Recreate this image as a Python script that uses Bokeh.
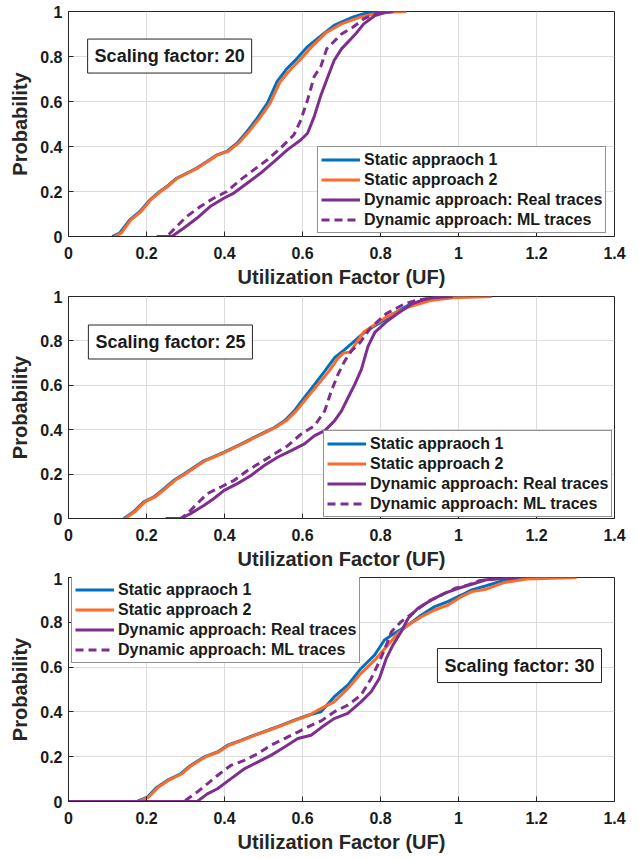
from bokeh.plotting import figure
from bokeh.layouts import column
from bokeh.models import Legend, LegendItem, Label, FixedTicker
from bokeh.embed import file_html
from bokeh.resources import INLINE

# ---------------- data ----------------
series_names = ["Static appraoch 1", "Static approach 2",
                "Dynamic approach: Real traces", "Dynamic approach: ML traces"]
scaling_labels = ["Scaling factor: 20", "Scaling factor: 25", "Scaling factor: 30"]
x_ticks = [0, 0.2, 0.4, 0.6, 0.8, 1.0, 1.2, 1.4]
x_tick_labels = ["0", "0.2", "0.4", "0.6", "0.8", "1", "1.2", "1.4"]
y_ticks = [0, 0.2, 0.4, 0.6, 0.8, 1.0]
y_tick_labels = ["0", "0.2", "0.4", "0.6", "0.8", "1"]

# Panel 1 (scaling factor 20)
p1_s1_x = [0.112, 0.131, 0.157, 0.183, 0.209, 0.234, 0.252, 0.277, 0.303, 0.329, 0.355, 0.381, 0.406, 0.432, 0.458, 0.484, 0.510, 0.535, 0.561, 0.587, 0.613, 0.643, 0.681, 0.729, 0.757, 0.795, 0.814]
p1_s1_p = [0, 0.015, 0.074, 0.111, 0.163, 0.2, 0.222, 0.259, 0.281, 0.304, 0.333, 0.363, 0.378, 0.415, 0.467, 0.526, 0.593, 0.689, 0.748, 0.793, 0.844, 0.886, 0.938, 0.975, 0.99, 0.999, 1.0]
p1_s2_x = [0.118, 0.135, 0.160, 0.186, 0.211, 0.236, 0.254, 0.279, 0.305, 0.331, 0.357, 0.383, 0.409, 0.436, 0.463, 0.490, 0.517, 0.543, 0.572, 0.598, 0.624, 0.662, 0.700, 0.748, 0.786, 0.830, 0.866]
p1_s2_p = [0, 0.015, 0.074, 0.111, 0.163, 0.2, 0.222, 0.259, 0.281, 0.304, 0.333, 0.363, 0.378, 0.415, 0.467, 0.526, 0.593, 0.689, 0.748, 0.793, 0.844, 0.908, 0.945, 0.975, 0.99, 0.998, 1.0]
p1_s3_x = [0.230, 0.265, 0.295, 0.329, 0.363, 0.398, 0.424, 0.458, 0.492, 0.527, 0.561, 0.596, 0.613, 0.630, 0.647, 0.665, 0.681, 0.700, 0.736, 0.757, 0.786, 0.815, 0.833]
p1_s3_p = [0, 0, 0.037, 0.081, 0.133, 0.17, 0.193, 0.237, 0.281, 0.333, 0.385, 0.43, 0.459, 0.533, 0.627, 0.71, 0.782, 0.834, 0.90, 0.945, 0.982, 0.997, 1.0]
p1_s4_x = [0.226, 0.252, 0.277, 0.303, 0.338, 0.372, 0.406, 0.441, 0.475, 0.510, 0.544, 0.578, 0.596, 0.613, 0.630, 0.647, 0.662, 0.700, 0.729, 0.757, 0.786, 0.805]
p1_s4_p = [0, 0, 0.044, 0.089, 0.133, 0.17, 0.2, 0.252, 0.296, 0.341, 0.393, 0.452, 0.519, 0.607, 0.711, 0.756, 0.834, 0.90, 0.93, 0.967, 0.99, 1.0]

# Panel 2 (scaling factor 25)
p2_s1_x = [0.142, 0.167, 0.193, 0.219, 0.245, 0.270, 0.296, 0.322, 0.348, 0.373, 0.399, 0.425, 0.451, 0.476, 0.502, 0.528, 0.554, 0.579, 0.605, 0.631, 0.657, 0.682, 0.708, 0.742, 0.768, 0.795, 0.833, 0.871, 0.909, 0.947, 1.023]
p2_s1_p = [0, 0.03, 0.075, 0.097, 0.134, 0.172, 0.2, 0.231, 0.261, 0.279, 0.299, 0.321, 0.343, 0.366, 0.388, 0.41, 0.44, 0.485, 0.545, 0.604, 0.664, 0.724, 0.761, 0.813, 0.851, 0.877, 0.922, 0.96, 0.982, 0.993, 1.0]
p2_s2_x = [0.145, 0.170, 0.196, 0.222, 0.248, 0.273, 0.299, 0.325, 0.351, 0.376, 0.402, 0.428, 0.454, 0.479, 0.505, 0.531, 0.558, 0.584, 0.612, 0.640, 0.668, 0.690, 0.705, 0.722, 0.757, 0.814, 0.871, 0.928, 0.985, 1.085]
p2_s2_p = [0, 0.03, 0.075, 0.097, 0.134, 0.172, 0.2, 0.231, 0.261, 0.279, 0.299, 0.321, 0.343, 0.366, 0.388, 0.41, 0.44, 0.485, 0.545, 0.604, 0.664, 0.72, 0.745, 0.75, 0.84, 0.907, 0.952, 0.982, 0.994, 1.0]
p2_s3_x = [0.25, 0.288, 0.313, 0.348, 0.373, 0.399, 0.433, 0.468, 0.502, 0.536, 0.571, 0.605, 0.631, 0.657, 0.682, 0.700, 0.717, 0.734, 0.751, 0.768, 0.786, 0.814, 0.843, 0.881, 0.909, 0.937, 0.985]
p2_s3_p = [0, 0, 0.022, 0.06, 0.09, 0.127, 0.157, 0.194, 0.239, 0.276, 0.306, 0.336, 0.373, 0.396, 0.44, 0.485, 0.545, 0.604, 0.672, 0.775, 0.84, 0.885, 0.922, 0.967, 0.985, 0.995, 1.0]
p2_s4_x = [0.249, 0.288, 0.305, 0.330, 0.356, 0.391, 0.425, 0.459, 0.494, 0.528, 0.562, 0.597, 0.631, 0.657, 0.674, 0.691, 0.708, 0.725, 0.747, 0.768, 0.776, 0.814, 0.862, 0.890, 0.928, 0.956]
p2_s4_p = [0, 0, 0.022, 0.067, 0.112, 0.142, 0.172, 0.216, 0.254, 0.291, 0.328, 0.381, 0.418, 0.485, 0.575, 0.649, 0.709, 0.754, 0.791, 0.843, 0.86, 0.922, 0.967, 0.982, 0.993, 1.0]

# Panel 3 (scaling factor 30)
p3_s1_x = [0, 0.176, 0.202, 0.227, 0.253, 0.288, 0.313, 0.348, 0.382, 0.408, 0.442, 0.476, 0.511, 0.545, 0.579, 0.614, 0.647, 0.681, 0.716, 0.750, 0.785, 0.810, 0.836, 0.871, 0.905, 0.939, 0.974, 1.008, 1.034, 1.071, 1.118, 1.156, 1.23]
p3_s1_p = [0, 0, 0.019, 0.064, 0.094, 0.124, 0.161, 0.199, 0.221, 0.251, 0.273, 0.296, 0.318, 0.340, 0.363, 0.385, 0.40, 0.467, 0.519, 0.594, 0.654, 0.721, 0.751, 0.788, 0.833, 0.87, 0.893, 0.922, 0.945, 0.963, 0.988, 0.997, 1.0]
p3_s2_x = [0, 0.18, 0.205, 0.230, 0.256, 0.291, 0.316, 0.351, 0.385, 0.411, 0.445, 0.479, 0.514, 0.548, 0.582, 0.617, 0.647, 0.681, 0.716, 0.750, 0.785, 0.819, 0.845, 0.871, 0.905, 0.939, 0.974, 1.008, 1.034, 1.071, 1.118, 1.175, 1.303]
p3_s2_p = [0, 0, 0.019, 0.064, 0.094, 0.124, 0.161, 0.199, 0.221, 0.251, 0.273, 0.296, 0.318, 0.340, 0.363, 0.385, 0.415, 0.445, 0.504, 0.572, 0.631, 0.699, 0.751, 0.788, 0.825, 0.855, 0.878, 0.915, 0.937, 0.948, 0.978, 0.993, 1.0]
p3_s3_x = [0, 0.330, 0.356, 0.382, 0.416, 0.451, 0.485, 0.519, 0.554, 0.588, 0.622, 0.648, 0.681, 0.716, 0.750, 0.776, 0.797, 0.815, 0.832, 0.853, 0.871, 0.896, 0.931, 0.965, 1.000, 1.034, 1.071, 1.15]
p3_s3_p = [0, 0, 0.034, 0.057, 0.101, 0.146, 0.176, 0.206, 0.243, 0.281, 0.296, 0.33, 0.37, 0.393, 0.445, 0.49, 0.549, 0.639, 0.699, 0.758, 0.818, 0.863, 0.9, 0.93, 0.952, 0.97, 0.99, 1.0]
p3_s4_x = [0, 0.296, 0.330, 0.356, 0.382, 0.416, 0.451, 0.485, 0.519, 0.554, 0.588, 0.622, 0.648, 0.681, 0.716, 0.750, 0.776, 0.797, 0.815, 0.828, 0.853, 0.888, 0.922, 0.957, 0.991, 1.025, 1.052, 1.099, 1.127]
p3_s4_p = [0, 0, 0.042, 0.079, 0.116, 0.161, 0.184, 0.213, 0.251, 0.281, 0.310, 0.340, 0.36, 0.4, 0.43, 0.475, 0.549, 0.624, 0.699, 0.758, 0.803, 0.848, 0.893, 0.922, 0.952, 0.967, 0.985, 0.996, 1.0]

# ---------------- styling ----------------
COLORS = ["#0072BD", "#FF6A2A", "#7E2F8E", "#7E2F8E"]
DASHES = ["solid", "solid", "solid", "8 5"]
FONT = "Liberation Sans"
TXT = "#1a1a1a"
AX = "#262626"

panels = [
    dict(series=[(p1_s1_x, p1_s1_p), (p1_s2_x, p1_s2_p), (p1_s3_x, p1_s3_p), (p1_s4_x, p1_s4_p)],
         label=scaling_labels[0], lab_xy=(0.049, 0.802), legend_loc=(249, 3),
         height=290, top=11, bottom=54),
    dict(series=[(p2_s1_x, p2_s1_p), (p2_s2_x, p2_s2_p), (p2_s3_x, p2_s3_p), (p2_s4_x, p2_s4_p)],
         label=scaling_labels[1], lab_xy=(0.051, 0.795), legend_loc=(255, 1),
         height=282, top=6, bottom=54),
    dict(series=[(p3_s1_x, p3_s1_p), (p3_s2_x, p3_s2_p), (p3_s3_x, p3_s3_p), (p3_s4_x, p3_s4_p)],
         label=scaling_labels[2], lab_xy=(0.946, 0.607), legend_loc=(3, 138),
         height=285, top=5, bottom=56),
]

figs = []
for pan in panels:
    f = figure(width=638, height=pan["height"], x_range=(0, 1.4), y_range=(0, 1),
               output_backend="svg", toolbar_location=None,
               min_border_left=68, min_border_right=24,
               min_border_top=pan["top"], min_border_bottom=pan["bottom"])
    f.background_fill_color = "white"
    f.border_fill_color = "white"
    f.outline_line_color = AX
    f.outline_line_width = 1

    f.xaxis.ticker = FixedTicker(ticks=x_ticks)
    f.yaxis.ticker = FixedTicker(ticks=y_ticks)
    f.xaxis.major_label_overrides = {t: s for t, s in zip(x_ticks, x_tick_labels)}
    f.yaxis.major_label_overrides = {t: s for t, s in zip(y_ticks, y_tick_labels)}
    f.xaxis.axis_label = "Utilization Factor (UF)"
    f.yaxis.axis_label = "Probability"
    for ax in (f.xaxis[0], f.yaxis[0]):
        ax.axis_line_color = AX
        ax.major_tick_line_color = AX
        ax.major_tick_in = 5
        ax.major_tick_out = 0
        ax.minor_tick_line_color = None
        ax.major_label_text_font = FONT
        ax.major_label_text_font_style = "bold"
        ax.major_label_text_font_size = "16px"
        ax.major_label_text_color = TXT
        ax.axis_label_text_font = FONT
        ax.axis_label_text_font_style = "bold"
        ax.axis_label_text_font_size = "20px"
        ax.axis_label_text_color = "#262626"
    f.xaxis.major_label_standoff = 10
    f.xaxis.axis_label_standoff = 4
    f.yaxis.major_label_standoff = 6
    f.yaxis.axis_label_standoff = 6

    f.xgrid.grid_line_color = "#DCDCDC"
    f.ygrid.grid_line_color = "#DCDCDC"
    f.xgrid.grid_line_width = 1
    f.ygrid.grid_line_width = 1

    items = []
    for (xs, ps), name, col, dash in zip(pan["series"], series_names, COLORS, DASHES):
        r = f.line(xs, ps, line_color=col, line_width=3, line_dash=dash)
        items.append(LegendItem(label=name, renderers=[r]))

    leg = Legend(items=items, location=pan["legend_loc"],
                 label_text_font=FONT, label_text_font_style="bold",
                 label_text_font_size="16px", label_text_color=TXT,
                 glyph_width=39, glyph_height=19, label_height=19,
                 label_standoff=4, spacing=1, padding=3, margin=0,
                 border_line_color=AX, border_line_width=1,
                 background_fill_color="white", background_fill_alpha=1.0)
    f.add_layout(leg)

    lab = Label(x=pan["lab_xy"][0], y=pan["lab_xy"][1], text=pan["label"],
                text_font=FONT, text_font_style="bold", text_font_size="18px",
                text_color=TXT, text_align="left", text_baseline="middle",
                padding=7, border_line_color=AX, border_line_width=1,
                background_fill_color="white", background_fill_alpha=1.0)
    f.add_layout(lab)
    figs.append(f)

layout = column(*figs, spacing=0)
open("out.html", "w").write(file_html(layout, INLINE))
